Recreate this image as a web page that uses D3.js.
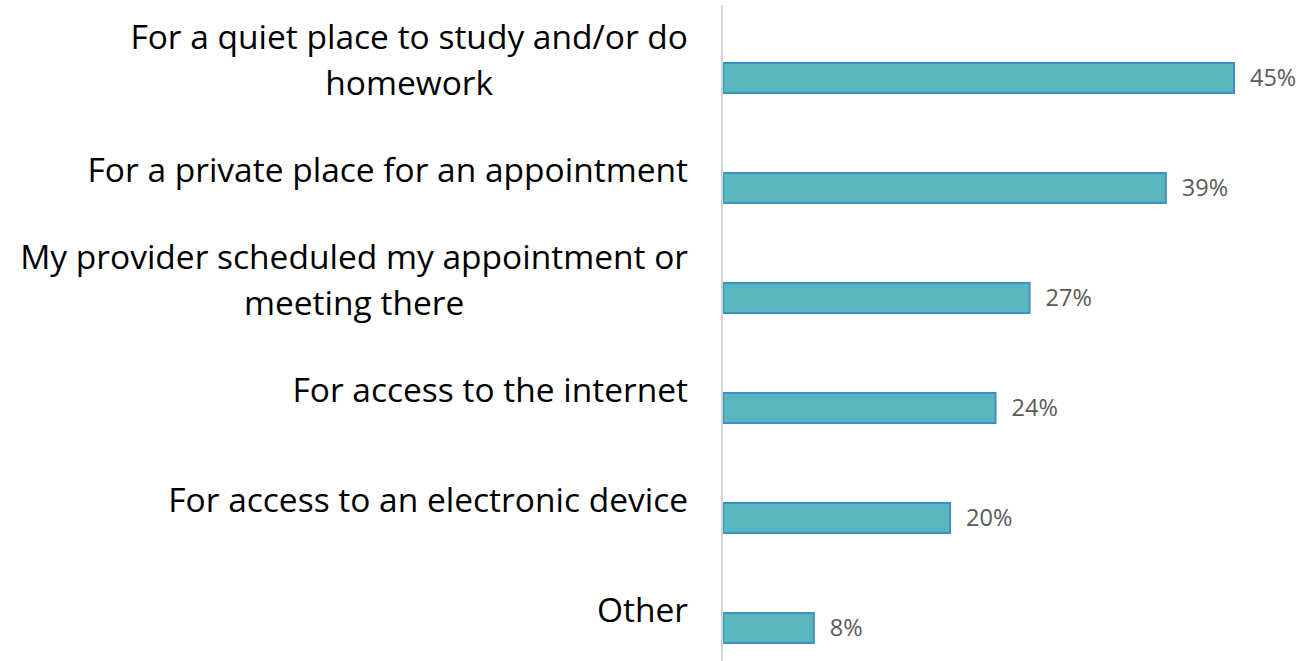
<!DOCTYPE html>
<html>
<head>
<meta charset="utf-8">
<script src="https://cdn.jsdelivr.net/npm/d3@7"></script>
<style>
  body { margin: 0; background: #fff; }
  svg { display: block; }
</style>
</head>
<body>
<div id="chart"></div>
<script>
// chart data
const categories = [
  ["For a quiet place to study and/or do", "homework"],
  ["For a private place for an appointment"],
  ["My provider scheduled my appointment or", "meeting there"],
  ["For access to the internet"],
  ["For access to an electronic device"],
  ["Other"]
];
const values = [0.45, 0.39, 0.27, 0.24, 0.20, 0.08];
const valueLabels = ["45%", "39%", "27%", "24%", "20%", "8%"];

const width = 1306;
const height = 661;

const svg = d3.select("#chart")
  .append("svg")
  .attr("width", width)
  .attr("height", height);

// y position of each bar
const y = d3.scaleBand()
  .domain(d3.range(categories.length))
  .range([30, 676])
  .paddingInner(0.727)
  .paddingOuter(0.3);

// bar length
const x = d3.scaleLinear()
  .domain([0, 0.45])
  .range([723, 1234]);

// bars
svg.append("g")
  .selectAll("rect")
  .data(values)
  .enter()
  .append("rect")
  .attr("x", x(0))
  .attr("y", function(d, i) { return y(i); })
  .attr("width", function(d) { return x(d) - x(0); })
  .attr("height", y.bandwidth())
  .attr("fill", "#5bb5bf")
  .attr("stroke", "#3a93c3")
  .attr("stroke-width", 2);

// vertical axis line
svg.append("line")
  .attr("x1", 722)
  .attr("x2", 722)
  .attr("y1", 5)
  .attr("y2", height)
  .attr("stroke", "#d4d4d4")
  .attr("stroke-width", 2);

// value labels
svg.append("g")
  .selectAll("text")
  .data(values)
  .enter()
  .append("text")
  .attr("x", function(d) { return x(d) + 16; })
  .attr("y", function(d, i) { return y(i) + y.bandwidth() / 2; })
  .attr("dy", "0.35em")
  .attr("font-family", "'Open Sans', sans-serif")
  .attr("font-size", 23.5)
  .attr("fill", "#5a5a5a")
  .text(function(d, i) { return valueLabels[i]; });

// category labels: centred text lines in a block right-aligned at x=688
const lineHeight = 46;
const labelFont = 33.5;
const catGroups = svg.append("g")
  .selectAll("g")
  .data(categories)
  .enter()
  .append("g");

catGroups.each(function(lines, i) {
  const g = d3.select(this);
  const centre = y(i) + y.bandwidth() / 2 - 18;
  const top = centre - (lines.length - 1) * lineHeight / 2;
  const texts = g.selectAll("text")
    .data(lines)
    .enter()
    .append("text")
    .attr("y", function(d, j) { return top + j * lineHeight; })
    .attr("dy", "0.35em")
    .attr("font-family", "'Open Sans', sans-serif")
    .attr("font-size", labelFont)
    .attr("fill", "#000")
    .attr("text-anchor", "middle")
    .text(function(d) { return d; });

  // widest line sets the block, right edge at 688
  let maxW = 0;
  texts.each(function() { maxW = Math.max(maxW, this.getComputedTextLength()); });
  texts.attr("x", 688 - maxW / 2);
});
</script>
</body>
</html>
